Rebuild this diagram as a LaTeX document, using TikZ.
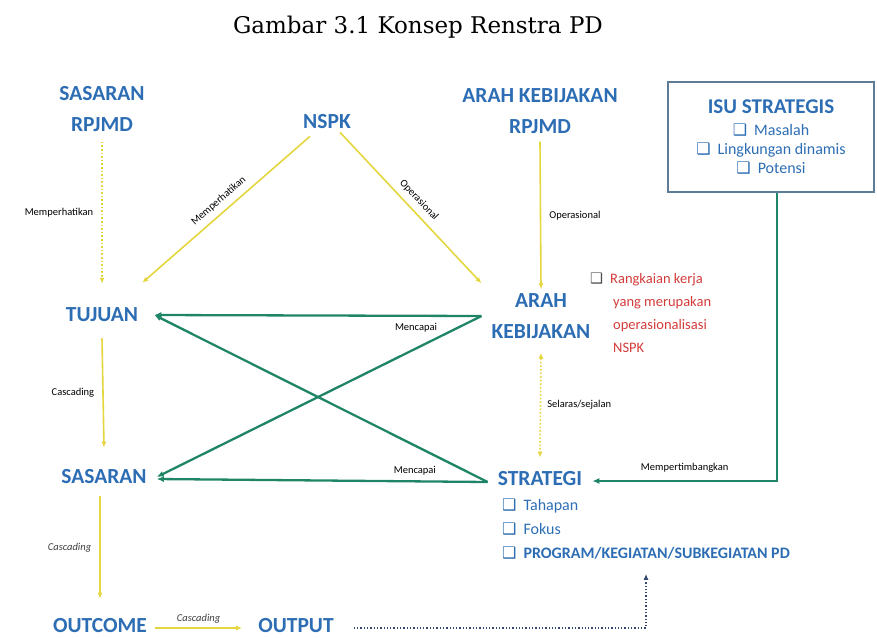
\documentclass[tikz,border=0pt]{standalone}
\usepackage{fontspec}
\usetikzlibrary{positioning,arrows.meta}
\newfontfamily\calib{Carlito}
\newfontfamily\symb{DejaVu Sans}
\newfontfamily\capfont{DejaVu Serif}
\definecolor{headBlue}{HTML}{2C6DB4}
\definecolor{lineYellow}{HTML}{E4D63E}
\definecolor{lineGreen}{HTML}{1F8566}
\definecolor{noteRed}{HTML}{D43B3B}
\definecolor{dotNavy}{HTML}{34466E}
\definecolor{boxLine}{HTML}{5F7C96}
\newcommand{\bul}{{\symb\char"2751}\hspace{7pt}}

\begin{document}
\begin{tikzpicture}[x=1pt,y=-1pt,
    every node/.style={inner sep=0pt},
    head/.style={font=\calib\bfseries\fontsize{21.5}{31}\selectfont,
                 text=headBlue,align=center},
    tag/.style={font=\calib\fontsize{10.5}{12}\selectfont,text=black},
    itag/.style={font=\calib\itshape\fontsize{10.5}{12}\selectfont,text=black!75},
    yel/.style={draw=lineYellow,line width=1.6pt,-{Latex[length=6pt,width=5pt]}},
    grn/.style={draw=lineGreen,line width=2.3pt,-{Latex[length=7pt,width=6pt]}}]
        \useasboundingbox (0,0) rectangle (877,637);
        \node[font=\capfont\fontsize{23}{26}\selectfont] (title) at (418,27)
              {Gambar 3.1 Konsep Renstra PD};
        % top row
        \node[head] (srpjmd) at (102,109) {SASARAN\\RPJMD};
        \node[head] (nspk) at (327,122) {NSPK};
        \node[head] (arpjmd) at (540,111) {ARAH KEBIJAKAN\\RPJMD};
        \node[draw=boxLine,line width=1.2pt,minimum width=206pt,minimum height=110pt,
              align=center,text=headBlue,font=\calib\fontsize{16}{19}\selectfont]
              (isu) at (771,137)
              {{\bfseries\fontsize{21}{21}\selectfont ISU STRATEGIS}\\[3pt]
               \bul Masalah\\\bul Lingkungan dinamis\\\bul Potensi};
        % middle rows
        \node[head] (tujuan) at (102,315) {TUJUAN};
        \node[head] (arah) at (541,316) {ARAH\\KEBIJAKAN};
        \node[align=left,text=noteRed,font=\calib\fontsize{14.5}{23}\selectfont,
              anchor=north west] (note) at (590,273)
              {{\color{black!70}\bul}Rangkaian kerja\\
               \hspace{23pt}yang merupakan\\
               \hspace{23pt}operasionalisasi\\
               \hspace{23pt}NSPK};
        \node[head] (sasaran) at (104,477) {SASARAN};
        \node[head] (strategi) at (540,479) {STRATEGI};
        \node[align=left,text=headBlue,font=\calib\fontsize{16}{24}\selectfont,
              anchor=north west] (stritems) at (502,499)
              {\bul Tahapan\\\bul Fokus\\\bul\textbf{PROGRAM/KEGIATAN/SUBKEGIATAN PD}};
        % bottom row
        \node[head] (outcome) at (100,626) {OUTCOME};
        \node[head] (output) at (296,626) {OUTPUT};

        % yellow links
        \draw[yel,dotted] ([yshift=-10pt]srpjmd.south) -- ([yshift=24pt]tujuan.north)
              node[midway,left=8pt,tag] (lbla) {Memperhatikan};
        \draw[yel] ([xshift=-17pt,yshift=-7pt]nspk.south) -- ([xshift=4pt,yshift=25pt]tujuan.north east)
              node[midway,sloped,above=6pt,tag] (lblb) {Memperhatikan};
        \draw[yel] ([xshift=13pt,yshift=-3pt]nspk.south) -- ([xshift=-10pt,yshift=10pt]arah.north west)
              node[midway,sloped,above=6pt,tag] (lblc) {Operasional};
        \draw[yel] ([yshift=-8pt]arpjmd.south) -- ([yshift=4pt]arah.north)
              node[midway,right=8pt,tag] (lbld) {Operasional};
        \draw[yel,dotted,{Latex[length=6pt,width=5pt]}-{Latex[length=6pt,width=5pt]}]
              ([yshift=-14pt]arah.south) -- ([yshift=14pt]strategi.north)
              node[midway,right=6pt,tag] (lble) {Selaras/sejalan};
        \draw[yel] ([yshift=-16pt]tujuan.south) -- ([yshift=22pt]sasaran.north)
              node[midway,left=8pt,tag] (lblf) {Cascading};
        \draw[yel] ([xshift=-4pt,yshift=-12pt]sasaran.south) -- ([yshift=20pt]outcome.north)
              node[midway,left=8pt,itag] (lblg) {Cascading};
        \draw[yel] ([xshift=8pt,yshift=-2pt]outcome.east) -- ([xshift=-16pt,yshift=-2pt]output.west)
              node[midway,above=4pt,itag] (lblh) {Cascading};

        % green links
        \draw[grn] ([xshift=-10pt]arah.west) -- ([xshift=16pt]tujuan.east)
              node[pos=0.2,below=6pt,tag] (lbli) {Mencapai};
        \draw[grn] ([xshift=-10pt]arah.west) -- ([xshift=10pt]sasaran.east);
        \draw[grn] ([xshift=-10pt,yshift=-3pt]strategi.west) -- ([xshift=16pt]tujuan.east);
        \draw[grn] ([xshift=-10pt,yshift=-3pt]strategi.west) -- ([xshift=10pt,yshift=-2pt]sasaran.east)
              node[pos=0.22,above=5pt,tag] (lblj) {Mencapai};
        \draw[grn] ([xshift=6pt]isu.south) |- ([xshift=10pt,yshift=-2pt]strategi.east)
              node[pos=0.75,above=8pt,tag] (lblk) {Mempertimbangkan};

        % output to program
        \draw[dotNavy,line width=1.3pt,dotted,-{Latex[length=6pt,width=5pt]}]
              ([xshift=20pt,yshift=-2pt]output.east) -| ([yshift=-14pt]stritems.south);
      \end{tikzpicture}
\end{document}
